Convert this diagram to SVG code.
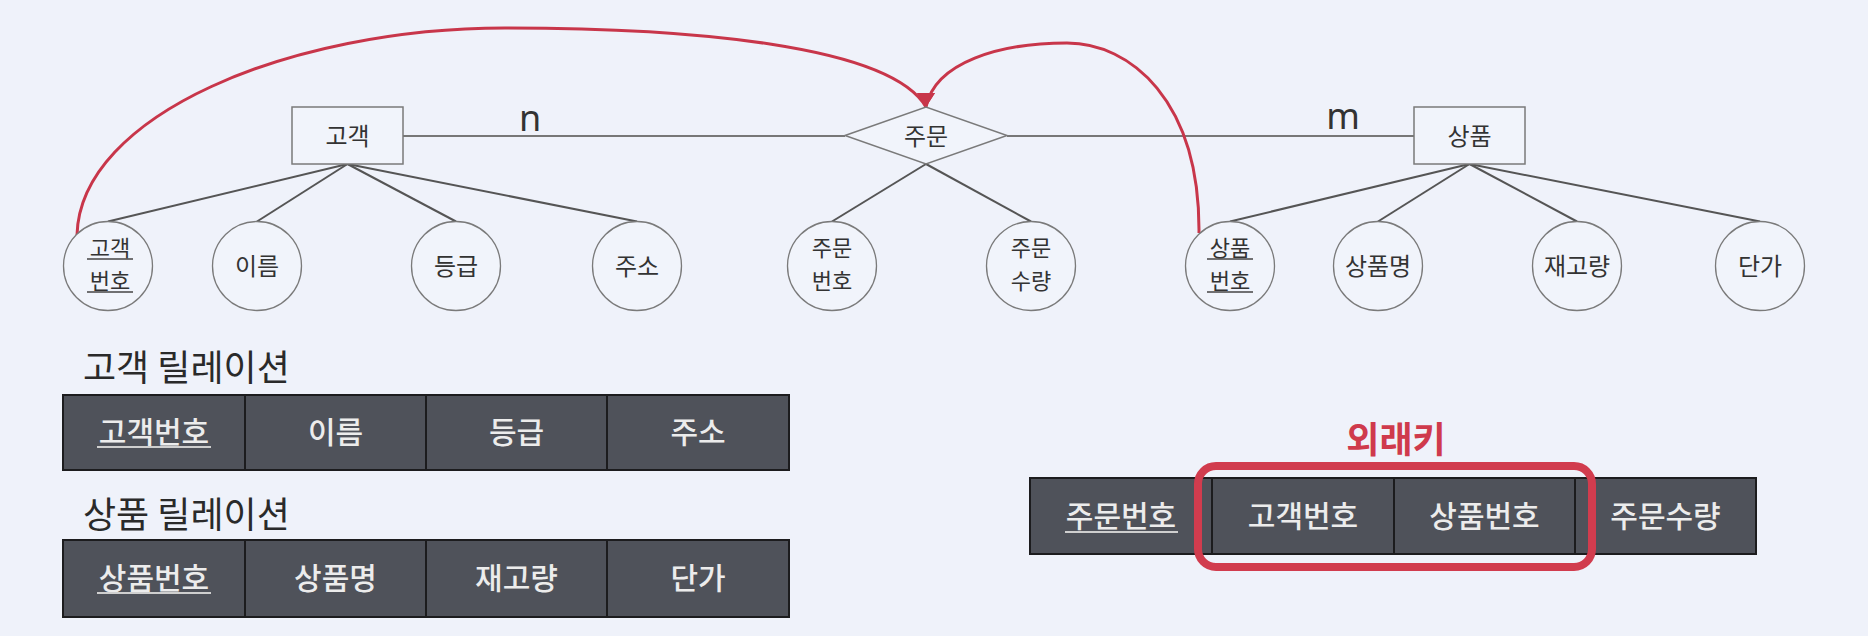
<svg xmlns="http://www.w3.org/2000/svg" width="1868" height="636" viewBox="0 0 1868 636">
<style>
.bg{fill:#eff2fa}
.ent{fill:#f1f4fb;stroke:#7a7a7a;stroke-width:1.5}
.attr{fill:#f1f4fb;stroke:#7a7a7a;stroke-width:1.3}
.lbl{font-family:"Noto Sans CJK KR","Noto Sans",sans-serif;font-size:24px;fill:#333;text-anchor:middle;dominant-baseline:central}
.lbl2{font-family:"Noto Sans CJK KR","Noto Sans",sans-serif;font-size:22px;fill:#333;text-anchor:middle;dominant-baseline:central}
.card{font-family:"Noto Sans","Liberation Sans",sans-serif;font-size:36px;fill:#333;text-anchor:middle;dominant-baseline:central}
.link{stroke:#555;stroke-width:2;fill:none}
.rel{stroke:#777;stroke-width:2;fill:none}
.ul{stroke:#444;stroke-width:1.5}
.fk{fill:none;stroke:#c8364a;stroke-width:3}
.cell{fill:#4f525a;stroke:#1c1c1e;stroke-width:2}
.ctext{font-family:"Noto Sans CJK KR","Noto Sans",sans-serif;font-size:30px;font-weight:500;fill:#ececec;text-anchor:middle;dominant-baseline:central}
.cul{stroke:#cfcfcf;stroke-width:2}
.title{font-family:"Noto Sans CJK KR","Noto Sans",sans-serif;font-size:36px;fill:#2a2a2a}
.fktitle{font-family:"Noto Sans CJK KR","Noto Sans",sans-serif;font-size:36px;font-weight:bold;fill:#cf3a4c;text-anchor:middle;dominant-baseline:central}
</style>
<defs>
<marker id="arr" markerUnits="userSpaceOnUse" markerWidth="14" markerHeight="18" viewBox="0 0 14 18" refX="14" refY="9" orient="90">
<path d="M0,0 L14,9 L0,18 z" fill="#c8364a"/>
</marker>
</defs>
<rect class="bg" x="0" y="0" width="1868" height="636"/>

<g id="connectors">
<line class="rel" x1="403" y1="136" x2="845" y2="136"/>
<line class="rel" x1="1007" y1="136" x2="1414" y2="136"/>
<line class="link" x1="347.5" y1="164" x2="108" y2="221.5"/>
<line class="link" x1="347.5" y1="164" x2="257" y2="221.5"/>
<line class="link" x1="347.5" y1="164" x2="456" y2="221.5"/>
<line class="link" x1="347.5" y1="164" x2="637" y2="221.5"/>
<line class="link" x1="926" y1="164" x2="832" y2="221.5"/>
<line class="link" x1="926" y1="164" x2="1031" y2="221.5"/>
<line class="link" x1="1469.5" y1="164" x2="1230" y2="221.5"/>
<line class="link" x1="1469.5" y1="164" x2="1378" y2="221.5"/>
<line class="link" x1="1469.5" y1="164" x2="1577" y2="221.5"/>
<line class="link" x1="1469.5" y1="164" x2="1760" y2="221.5"/>
<text class="card" x="530" y="117">n</text>
<text class="card" x="1343" y="115">m</text>
<path class="fk" d="M77,235 C80,115 290,28 505,28 C690,28 890,45 926,107" marker-end="url(#arr)"/>
<path class="fk" d="M1199,233 C1200,100 1130,43 1067,43 C1000,43 935,62 926,107" marker-end="url(#arr)"/>
</g>

<g id="entity-customer">
<rect class="ent" x="292" y="107" width="111" height="57"/>
<text class="lbl" x="347.5" y="134">고객</text>
</g>
<g id="relationship-order">
<polygon class="ent" points="845,135.5 926,107 1007,135.5 926,164"/>
<text class="lbl" x="926" y="134">주문</text>
</g>
<g id="entity-product">
<rect class="ent" x="1414" y="107" width="111" height="57"/>
<text class="lbl" x="1469.5" y="134">상품</text>
</g>

<g id="attr-cust-no">
<ellipse class="attr" cx="108" cy="266" rx="44.5" ry="44.5"/>
<text class="lbl2"><tspan x="110" y="246">고객</tspan><tspan x="110" y="279">번호</tspan></text>
<line class="ul" x1="87" y1="259" x2="133" y2="259"/>
<line class="ul" x1="87" y1="292" x2="133" y2="292"/>
</g>
<g id="attr-name">
<ellipse class="attr" cx="257" cy="266" rx="44.5" ry="44.5"/>
<text class="lbl" x="257" y="264">이름</text>
</g>
<g id="attr-grade">
<ellipse class="attr" cx="456" cy="266" rx="44.5" ry="44.5"/>
<text class="lbl" x="456" y="264">등급</text>
</g>
<g id="attr-addr">
<ellipse class="attr" cx="637" cy="266" rx="44.5" ry="44.5"/>
<text class="lbl" x="637" y="264">주소</text>
</g>
<g id="attr-order-no">
<ellipse class="attr" cx="832" cy="266" rx="44.5" ry="44.5"/>
<text class="lbl2"><tspan x="832" y="246">주문</tspan><tspan x="832" y="279">번호</tspan></text>
</g>
<g id="attr-order-qty">
<ellipse class="attr" cx="1031" cy="266" rx="44.5" ry="44.5"/>
<text class="lbl2"><tspan x="1031" y="246">주문</tspan><tspan x="1031" y="279">수량</tspan></text>
</g>
<g id="attr-prod-no">
<ellipse class="attr" cx="1230" cy="266" rx="44.5" ry="44.5"/>
<text class="lbl2"><tspan x="1230" y="246">상품</tspan><tspan x="1230" y="279">번호</tspan></text>
<line class="ul" x1="1207" y1="259" x2="1253" y2="259"/>
<line class="ul" x1="1207" y1="292" x2="1253" y2="292"/>
</g>
<g id="attr-prod-name">
<ellipse class="attr" cx="1378" cy="266" rx="44.5" ry="44.5"/>
<text class="lbl" x="1378" y="264">상품명</text>
</g>
<g id="attr-stock">
<ellipse class="attr" cx="1577" cy="266" rx="44.5" ry="44.5"/>
<text class="lbl" x="1577" y="264">재고량</text>
</g>
<g id="attr-price">
<ellipse class="attr" cx="1760" cy="266" rx="44.5" ry="44.5"/>
<text class="lbl" x="1760" y="264">단가</text>
</g>

<g id="customer-relation">
<text class="title" x="83" y="381">고객 릴레이션</text>
<rect class="cell" x="63" y="395" width="182" height="75"/>
<rect class="cell" x="245" y="395" width="181" height="75"/>
<rect class="cell" x="426" y="395" width="181" height="75"/>
<rect class="cell" x="607" y="395" width="182" height="75"/>
<text class="ctext" x="154" y="430">고객번호</text>
<line class="cul" x1="97" y1="447" x2="211" y2="447"/>
<text class="ctext" x="335.5" y="430">이름</text>
<text class="ctext" x="516.5" y="430">등급</text>
<text class="ctext" x="698" y="430">주소</text>
</g>

<g id="product-relation">
<text class="title" x="83" y="528">상품 릴레이션</text>
<rect class="cell" x="63" y="540" width="182" height="77"/>
<rect class="cell" x="245" y="540" width="181" height="77"/>
<rect class="cell" x="426" y="540" width="181" height="77"/>
<rect class="cell" x="607" y="540" width="182" height="77"/>
<text class="ctext" x="154" y="576">상품번호</text>
<line class="cul" x1="97" y1="593" x2="211" y2="593"/>
<text class="ctext" x="335.5" y="576">상품명</text>
<text class="ctext" x="516.5" y="576">재고량</text>
<text class="ctext" x="698" y="576">단가</text>
</g>

<g id="order-relation">
<rect class="cell" x="1030" y="478" width="182" height="76"/>
<rect class="cell" x="1212" y="478" width="182" height="76"/>
<rect class="cell" x="1394" y="478" width="181" height="76"/>
<rect class="cell" x="1575" y="478" width="181" height="76"/>
<text class="ctext" x="1121" y="514">주문번호</text>
<line class="cul" x1="1065" y1="532" x2="1178" y2="532"/>
<text class="ctext" x="1303" y="514">고객번호</text>
<text class="ctext" x="1484.5" y="514">상품번호</text>
<text class="ctext" x="1665.5" y="514">주문수량</text>
</g>

<g id="foreign-key">
<text class="fktitle" x="1396" y="437">외래키</text>
<rect x="1198" y="466" width="394" height="101" rx="18" ry="18" fill="none" stroke="#d13c4e" stroke-width="8"/>
</g>
</svg>
